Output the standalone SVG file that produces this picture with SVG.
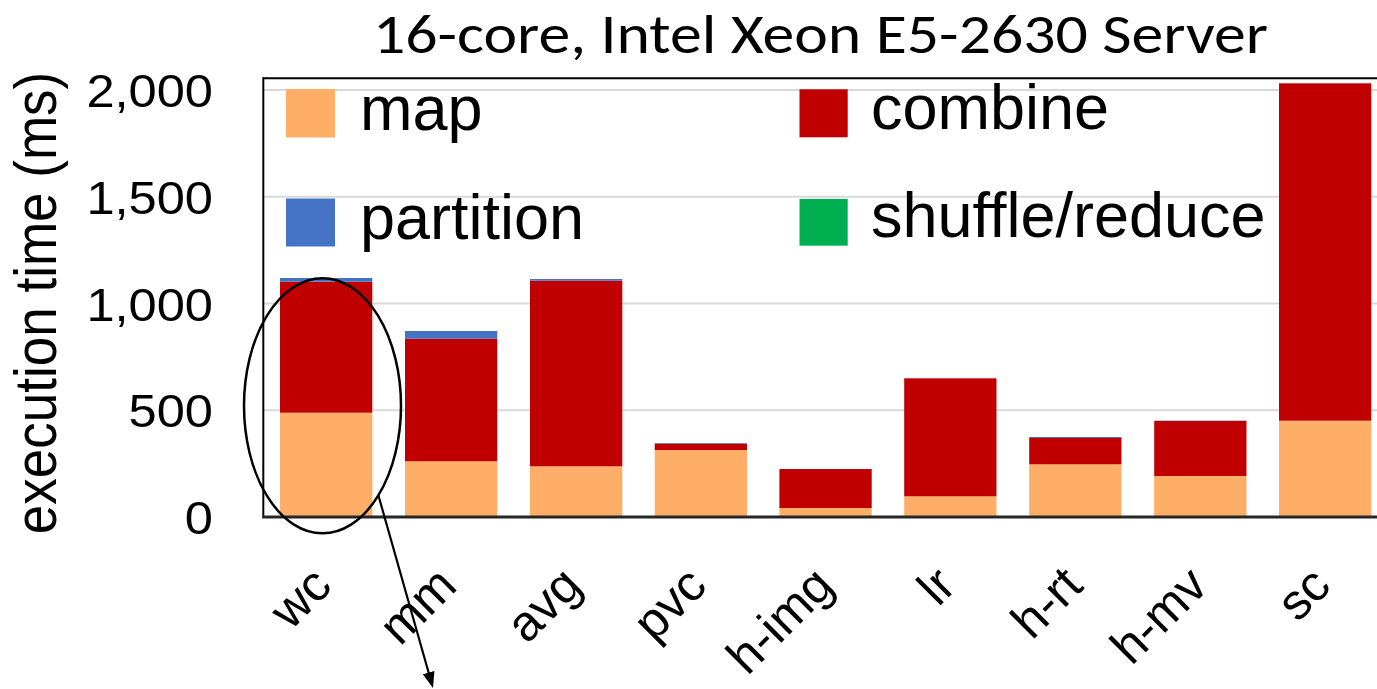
<svg xmlns="http://www.w3.org/2000/svg" width="1377" height="689" viewBox="0 0 1377 689">
<style>
.map{fill:#FFAE67}
.comb{fill:#C00000}
.part{fill:#4472C4}
.shuf{fill:#00B050}
.grid{stroke:#D9D9D9;stroke-width:2}
.lbl{font-family:"Liberation Sans",Arial,sans-serif;fill:#000}
.leg{font-family:"Liberation Sans",Arial,sans-serif;font-size:63px;fill:#000}
.xl{font-family:"Liberation Sans",Arial,sans-serif;font-size:50px;fill:#000;text-anchor:end}
.yl{font-family:"Liberation Sans",Arial,sans-serif;font-size:46px;fill:#000;text-anchor:end}
</style>
<defs>
<marker id="ah" viewBox="0 0 16 12" refX="8" refY="6" markerWidth="16" markerHeight="12" orient="auto" markerUnits="userSpaceOnUse"><path d="M0,0 L16,6 L0,12 z" fill="#000"/></marker>
</defs>
<rect width="1377" height="689" fill="#fff"/>
<g id="title">
<text x="373" y="53" font-family="Carlito, Lato, 'Open Sans', sans-serif" font-size="55" textLength="895" lengthAdjust="spacingAndGlyphs">16-core, Intel Xeon E5-2630 Server</text>
</g>
<g id="gridlines">
<line class="grid" x1="264" y1="90" x2="1377" y2="90"/>
<line class="grid" x1="264" y1="196.75" x2="1377" y2="196.75"/>
<line class="grid" x1="264" y1="303.5" x2="1377" y2="303.5"/>
<line class="grid" x1="264" y1="410.25" x2="1377" y2="410.25"/>
</g>
<g id="y-axis-labels">
<text class="yl" transform="translate(213,107) scale(1.1,1)">2,000</text>
<text class="yl" transform="translate(213,213.75) scale(1.1,1)">1,500</text>
<text class="yl" transform="translate(213,320.5) scale(1.1,1)">1,000</text>
<text class="yl" transform="translate(213,427.25) scale(1.1,1)">500</text>
<text class="yl" transform="translate(213,534) scale(1.1,1)">0</text>
</g>
<g id="y-axis-title">
<text class="lbl" font-size="53" text-anchor="middle" transform="translate(56,303) scale(1.13,1) rotate(-90)">execution time (ms)</text>
</g>
<g id="legend">
<rect class="map" x="286" y="89" width="49" height="48.5"/>
<text class="leg" x="360" y="130">map</text>
<rect class="part" x="286" y="198.5" width="49" height="48"/>
<text class="leg" x="360" y="239">partition</text>
<rect class="comb" x="799.5" y="89.3" width="48.2" height="48"/>
<text class="leg" x="871" y="129">combine</text>
<rect class="shuf" x="799.5" y="199" width="48.2" height="46.7"/>
<text class="leg" x="871" y="237">shuffle/reduce</text>
</g>
<g id="bar-wc">
<rect class="map" x="280" y="412.7" width="92.3" height="104.3"/>
<rect class="comb" x="280" y="281.7" width="92.3" height="131"/>
<rect class="part" x="280" y="278" width="92.3" height="3.7"/>
</g>
<g id="bar-mm">
<rect class="map" x="405" y="461.3" width="92.3" height="55.7"/>
<rect class="comb" x="405" y="338.7" width="92.3" height="122.6"/>
<rect class="part" x="405" y="331" width="92.3" height="7.7"/>
</g>
<g id="bar-avg">
<rect class="map" x="530" y="466.3" width="92.3" height="50.7"/>
<rect class="comb" x="530" y="280.7" width="92.3" height="185.6"/>
<rect class="part" x="530" y="279" width="92.3" height="1.7"/>
</g>
<g id="bar-pvc">
<rect class="map" x="654.7" y="450" width="92.3" height="67"/>
<rect class="comb" x="654.7" y="443.7" width="92.3" height="6.3"/>
<rect class="part" x="654.7" y="443" width="92.3" height="0.7"/>
</g>
<g id="bar-h-img">
<rect class="map" x="779.4" y="508" width="92.3" height="9"/>
<rect class="comb" x="779.4" y="469" width="92.3" height="39"/>
</g>
<g id="bar-lr">
<rect class="map" x="904.2" y="496.3" width="92.3" height="20.7"/>
<rect class="comb" x="904.2" y="378.3" width="92.3" height="118"/>
</g>
<g id="bar-h-rt">
<rect class="map" x="1029.2" y="464.3" width="92.3" height="52.7"/>
<rect class="comb" x="1029.2" y="438" width="92.3" height="26.3"/>
<rect class="part" x="1029.2" y="437" width="92.3" height="1"/>
</g>
<g id="bar-h-mv">
<rect class="map" x="1154.2" y="476" width="92.3" height="41"/>
<rect class="comb" x="1154.2" y="421" width="92.3" height="55"/>
<rect class="part" x="1154.2" y="420.6" width="92.3" height="0.4"/>
</g>
<g id="bar-sc">
<rect class="map" x="1279" y="420.7" width="92.3" height="96.3"/>
<rect class="comb" x="1279" y="83.3" width="92.3" height="337.4"/>
</g>
<g id="axes">
<line x1="263.3" y1="78.3" x2="1377" y2="78.3" stroke="#000" stroke-width="2"/>
<line x1="263.3" y1="77.3" x2="263.3" y2="518" stroke="#000" stroke-width="2"/>
<line x1="262.3" y1="517" x2="1377" y2="517" stroke="#262626" stroke-width="2.8"/>
</g>
<g id="x-axis-labels">
<text class="xl" transform="translate(334,588) rotate(-45)">wc</text>
<text class="xl" transform="translate(459,588) rotate(-45)">mm</text>
<text class="xl" transform="translate(584,588) rotate(-45)">avg</text>
<text class="xl" transform="translate(709,588) rotate(-45)">pvc</text>
<text class="xl" transform="translate(836,588) rotate(-45)">h-img</text>
<text class="xl" transform="translate(958,588) rotate(-45)">lr</text>
<text class="xl" transform="translate(1085,588) rotate(-45)">h-rt</text>
<text class="xl" transform="translate(1210,588) rotate(-45)">h-mv</text>
<text class="xl" transform="translate(1333,588) rotate(-45)">sc</text>
</g>
<g id="highlight">
<ellipse cx="322.5" cy="405.8" rx="78.5" ry="127.5" fill="none" stroke="#000" stroke-width="2.5"/>
</g>
<g id="connectors">
<line x1="378.3" y1="495" x2="430.8" y2="680.3" stroke="#000" stroke-width="2.2" marker-end="url(#ah)"/>
</g>
</svg>
